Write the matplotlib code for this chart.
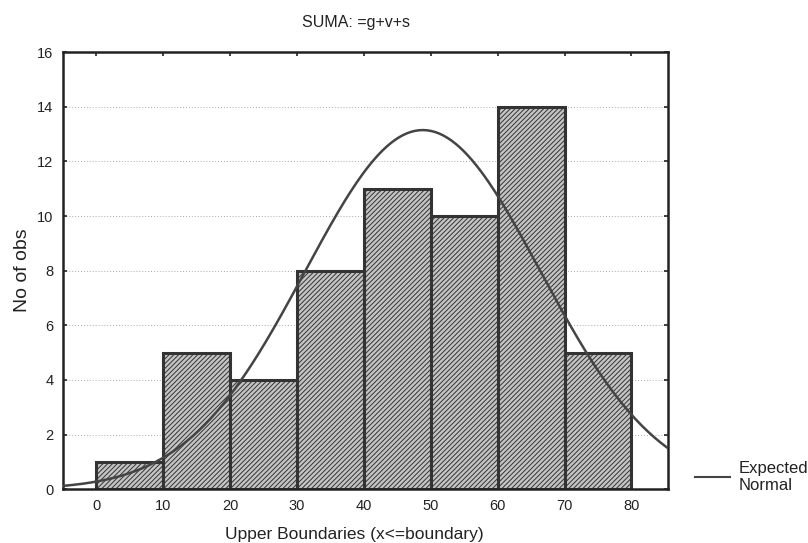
import numpy as np
import matplotlib.pyplot as plt
from matplotlib.lines import Line2D

plt.rcParams['font.family'] = ['Liberation Sans', 'DejaVu Sans']
plt.rcParams['hatch.linewidth'] = 0.7
plt.rcParams['hatch.color'] = '#555555'

# histogram data
bin_left = [0, 10, 20, 30, 40, 50, 60, 70]
counts = [1, 5, 4, 8, 11, 10, 14, 5]
bin_width = 10
x_ticks = [0, 10, 20, 30, 40, 50, 60, 70, 80]
y_ticks = [0, 2, 4, 6, 8, 10, 12, 14, 16]

# expected normal parameters
norm_mean = 48.8
norm_sd = 17.6

fig = plt.figure(figsize=(8.08, 5.43), dpi=100)
ax = fig.add_axes([0.078, 0.099, 0.749, 0.805])

ax.bar(bin_left, counts, width=bin_width, align='edge', facecolor='#c4c4c4',
       edgecolor='#333333', linewidth=2.2, hatch='///////', zorder=2)

n = sum(counts)
xs = np.linspace(-5, 85.5, 300)
ys = n * bin_width / (norm_sd * np.sqrt(2 * np.pi)) * np.exp(-0.5 * ((xs - norm_mean) / norm_sd) ** 2)
ax.plot(xs, ys, color='#444444', lw=1.8, zorder=3)

ax.set_xlim(-5, 85.5)
ax.set_ylim(0, 16)
ax.set_xticks(x_ticks)
ax.set_yticks(y_ticks)
ax.yaxis.grid(True, linestyle=(0, (1, 2)), color='#aaaaaa', lw=0.7, zorder=0)
ax.set_axisbelow(True)
ax.tick_params(direction='in', top=True, right=True, length=3, width=1.2,
               labelsize=10.5, colors='#222222', pad=7)
for s in ax.spines.values():
    s.set_linewidth(1.8)
    s.set_color('#222222')

fig.text(0.44, 0.958, 'SUMA: =g+v+s', fontsize=11.5, color='#222222', ha='center', va='center')
ax.set_xlabel('Upper Boundaries (x<=boundary)', fontsize=12.5, color='#222222')
ax.xaxis.set_label_coords(0.482, -0.086)
ax.set_ylabel('No of obs', fontsize=14, color='#222222', labelpad=4)

handle = Line2D([], [], color='#444444', lw=1.5)
fig.legend([handle], ['Expected\nNormal'], loc='center left', bbox_to_anchor=(0.86, 0.122),
           frameon=False, fontsize=12, handlelength=2.1, handletextpad=0.5,
           labelspacing=0.2, borderaxespad=0, borderpad=0, labelcolor='#222222')

fig.savefig('out.png', dpi=100)
